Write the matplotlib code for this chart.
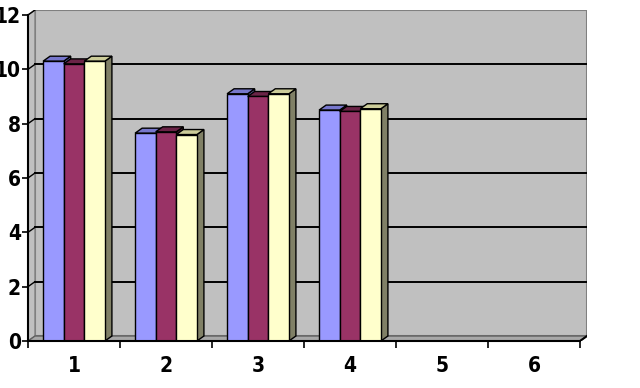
import matplotlib.pyplot as plt
from matplotlib.patches import Polygon
import numpy as np

# данные
categories = [1, 2, 3, 4, 5, 6]
series_1 = [10.3, 7.65, 9.1, 8.5]
series_2 = [10.2, 7.7, 9.0, 8.45]
series_3 = [10.3, 7.6, 9.1, 8.55]
y_ticks = [0, 2, 4, 6, 8, 10, 12]

colors = ['#9999FF', '#993366', '#FFFFCC']
top_colors = ['#7777CC', '#6B2447', '#CCCC99']
side_colors = ['#5C5C99', '#4D1A33', '#808066']

fig = plt.figure(figsize=(6.4, 3.88), dpi=100)
ax = fig.add_axes([28 / 640, 47 / 388, 559 / 640, 331 / 388])

ncat = len(categories)
dx = 7 / 92.0    # глубина по x (в категориях)
dy = 5 / 27.2    # глубина по y (в единицах)
x0, x1 = 0.5, ncat + 0.5
ymax = y_ticks[-1]

ax.set_xlim(x0, x1 + dx)
ax.set_ylim(0, ymax + dy)
ax.set_facecolor('none')

# стены
wall = '#C0C0C0'
ax.add_patch(Polygon([(x0 + dx, dy), (x1 + dx, dy), (x1 + dx, ymax + dy), (x0 + dx, ymax + dy)],
                     closed=True, facecolor=wall, edgecolor='#808080', lw=1.5, zorder=0))
ax.add_patch(Polygon([(x0, 0), (x0 + dx, dy), (x0 + dx, ymax + dy), (x0, ymax)],
                     closed=True, facecolor=wall, edgecolor='#808080', lw=1.0, zorder=0))
ax.add_patch(Polygon([(x0, 0), (x1, 0), (x1 + dx, dy), (x0 + dx, dy)],
                     closed=True, facecolor='#A8A8A8', edgecolor='#606060', lw=1.0, zorder=0.2))

# сетка
for v in y_ticks[1:-1]:
    ax.plot([x0 + dx, x1 + dx], [v + dy, v + dy], color='black', lw=1.4, zorder=0.5)
    ax.plot([x0, x0 + dx], [v, v + dy], color='black', lw=1.0, zorder=0.5)
ax.plot([x0, x0 + dx], [ymax, ymax + dy], color='black', lw=1.0, zorder=0.5)
ax.plot([x1, x1 + dx], [0, dy], color='black', lw=1.5, zorder=0.5)

# столбцы
w = 0.224
start = -3 * w / 2
all_series = [series_1, series_2, series_3]
for c in range(len(series_1)):
    for s, data in enumerate(all_series):
        h = data[c]
        left = categories[c] + start + s * w
        z = 2 + c * 3 + s
        ax.add_patch(Polygon([(left + w, 0), (left + w + dx, dy), (left + w + dx, h + dy), (left + w, h)],
                             closed=True, facecolor=side_colors[s], edgecolor='black', lw=1.0, zorder=z))
        ax.add_patch(Polygon([(left, h), (left + dx, h + dy), (left + w + dx, h + dy), (left + w, h)],
                             closed=True, facecolor=top_colors[s], edgecolor='black', lw=1.0, zorder=z))
        ax.bar(left, h, width=w, align='edge', color=colors[s], edgecolor='black', lw=1.0, zorder=z)

# оси
for sp in ['top', 'right']:
    ax.spines[sp].set_visible(False)
ax.spines['left'].set_bounds(0, ymax)
ax.spines['bottom'].set_bounds(x0, x1)
ax.spines['left'].set_linewidth(1.5)
ax.spines['bottom'].set_linewidth(1.5)
ax.spines['left'].set_zorder(30)
ax.spines['bottom'].set_zorder(30)

font = dict(family='DejaVu Sans', weight='bold', size=15, stretch='condensed')
ax.set_yticks(y_ticks)
ax.set_yticklabels([str(v) for v in y_ticks], **font)
ax.tick_params(axis='y', length=4, width=1.2, pad=1)

ax.set_xticks(np.arange(x0, x1 + 0.01, 1.0))
ax.set_xticklabels([])
ax.set_xticks(categories, minor=True)
ax.set_xticklabels([str(c) for c in categories], minor=True, **font)
ax.tick_params(axis='x', which='major', length=5, width=1.2)
ax.tick_params(axis='x', which='minor', length=0, pad=11)

fig.savefig('out.png', dpi=100)
